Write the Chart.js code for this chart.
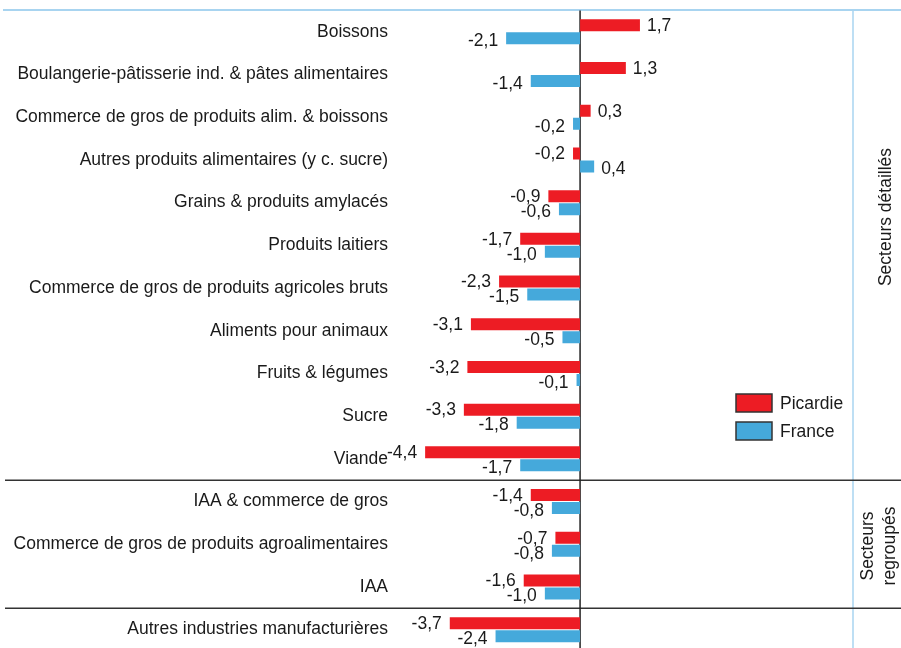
<!DOCTYPE html>
<html lang="fr">
<head>
<meta charset="utf-8">
<script src="https://cdn.jsdelivr.net/npm/chart.js@4"></script>
<style>
  html, body { margin: 0; padding: 0; background: #fff; overflow: hidden; }
  #cadre { width: 901px; height: 648px; overflow: hidden; }
</style>
</head>
<body>
<div id="cadre"><canvas id="graphique" width="901" height="660"></canvas></div>
<script>
// ── Données ──
const secteurs = [
    'Boissons',
    'Boulangerie-pâtisserie ind. & pâtes alimentaires',
    'Commerce de gros de produits alim. & boissons',
    'Autres produits alimentaires (y c. sucre)',
    'Grains & produits amylacés',
    'Produits laitiers',
    'Commerce de gros de produits agricoles bruts',
    'Aliments pour animaux',
    'Fruits & légumes',
    'Sucre',
    'Viande',
    'IAA & commerce de gros',
    'Commerce de gros de produits agroalimentaires',
    'IAA',
    'Autres industries manufacturières'
];
const picardie = [1.7, 1.3, 0.3, -0.2, -0.9, -1.7, -2.3, -3.1, -3.2, -3.3, -4.4, -1.4, -0.7, -1.6, -3.7];
const france   = [-2.1, -1.4, -0.2, 0.4, -0.6, -1.0, -1.5, -0.5, -0.1, -1.8, -1.7, -0.8, -0.8, -1.0, -2.4];

// début de chaque bloc (séparateurs horizontaux)
const debutsBlocs = [11, 14];

const ROUGE = '#ED1C24';
const BLEU  = '#45A9DB';
const POLICE = '"Liberation Sans", Arial, sans-serif';
const TEXTE = '#1a1a1a';

function _fmt(v) {
    return v.toFixed(1).replace('.', ',');
}

// ── Habillage : lignes, étiquettes, légende ──
const habillage = {
    id: 'habillage',
    beforeDatasetsDraw(chart) {
        const { ctx, chartArea, scales: { x, y } } = chart;
        const x0 = x.getPixelForValue(0);
        const ligne = (a, b, c, d) => { ctx.beginPath(); ctx.moveTo(a, b); ctx.lineTo(c, d); ctx.stroke(); };
        ctx.save();
        // lignes bleu clair (haut + colonne de droite)
        ctx.strokeStyle = '#a8d4f0';
        ctx.lineWidth = 2;
        ligne(3, 10, 901, 10);
        ctx.lineWidth = 1.5;
        ligne(853, 10, 853, chart.height);
        // séparateurs des blocs
        ctx.strokeStyle = '#333';
        ctx.lineWidth = 1.5;
        debutsBlocs.forEach(i => {
            const yy = (y.getPixelForValue(i - 1) + y.getPixelForValue(i)) / 2;
            ligne(5, yy, 901, yy);
        });
        // axe zéro
        ctx.strokeStyle = '#222';
        ctx.lineWidth = 1.5;
        ligne(x0, chartArea.top, x0, chart.height);
        ctx.restore();
    },
    afterDatasetsDraw(chart) {
        const { ctx } = chart;
        ctx.save();
        ctx.font = '17.5px ' + POLICE;
        ctx.fillStyle = TEXTE;
        ctx.textBaseline = 'middle';
        chart.data.datasets.forEach((ds, di) => {
            const dy = di === 0 ? 1 : 3;
            chart.getDatasetMeta(di).data.forEach((barre, i) => {
                const v = ds.data[i];
                if (v < 0) {
                    ctx.textAlign = 'right';
                    ctx.fillText(_fmt(v), barre.x - 8, barre.y + dy);
                } else {
                    ctx.textAlign = 'left';
                    ctx.fillText(_fmt(v), barre.x + 7, barre.y + dy);
                }
            });
        });

        // légende
        chart.data.datasets.forEach((ds, di) => {
            const yy = 394 + di * 28;
            ctx.fillStyle = ds.backgroundColor;
            ctx.fillRect(736, yy, 36, 18);
            ctx.strokeStyle = '#333';
            ctx.lineWidth = 1.5;
            ctx.strokeRect(736, yy, 36, 18);
            ctx.fillStyle = TEXTE;
            ctx.textAlign = 'left';
            ctx.fillText(ds.label, 780, yy + 10);
        });

        // titres des blocs (verticaux)
        ctx.textAlign = 'center';
        const vertical = (txt, cx, cy) => {
            ctx.save();
            ctx.translate(cx, cy);
            ctx.rotate(-Math.PI / 2);
            ctx.fillText(txt, 0, 0);
            ctx.restore();
        };
        vertical('Secteurs détaillés', 886, 217);
        vertical('Secteurs', 868, 546);
        vertical('regroupés', 890, 546);
        ctx.restore();
    }
};

new Chart(document.getElementById('graphique'), {
    type: 'bar',
    data: {
        labels: secteurs,
        datasets: [
            { label: 'Picardie', data: picardie, backgroundColor: ROUGE, categoryPercentage: 0.61, barPercentage: 0.92 },
            { label: 'France',   data: france,   backgroundColor: BLEU,  categoryPercentage: 0.61, barPercentage: 0.92 }
        ]
    },
    options: {
        indexAxis: 'y',
        responsive: false,
        animation: false,
        layout: { padding: { top: 10.5, bottom: 9, left: 0, right: 4 } },
        plugins: {
            legend: { display: false },
            tooltip: { enabled: false }
        },
        scales: {
            x: { display: false, min: -5, max: 9 },
            y: {
                grid: { display: false, drawTicks: false },
                border: { display: false },
                ticks: {
                    autoSkip: false,
                    padding: 16,
                    color: TEXTE,
                    font: { family: POLICE, size: 17.5 }
                },
                afterFit: s => { s.width = 404; s.paddingTop = 0; s.paddingBottom = 0; }
            }
        }
    },
    plugins: [habillage]
});
</script>
</body>
</html>
